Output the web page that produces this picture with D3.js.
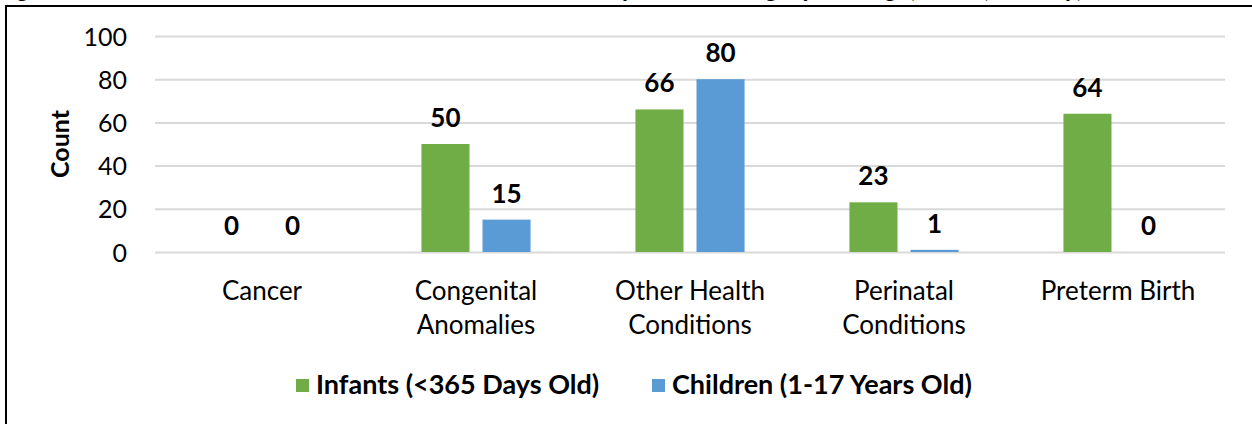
<!DOCTYPE html>
<html>
<head>
<meta charset="utf-8">
<title>Deaths by Category and Age</title>
<style type="text/css">
  body { margin: 0; background: #fff; }
  text { font-family: Lato, "Open Sans", sans-serif; fill: #000; }
  .grid line { stroke: #d9d9d9; stroke-width: 2; }
  .tick text { font-size: 25px; }
  .value { font-size: 26px; font-weight: bold; text-anchor: middle; }
  .legend text { font-size: 27px; font-weight: bold; }
</style>
<script src="https://d3js.org/d3.v7.min.js"></script>
</head>
<body>
<div id="chart"></div>
<script>
// data
var categories = ["Cancer", "Congenital Anomalies", "Other Health Conditions", "Perinatal Conditions", "Preterm Birth"];
var categoryLines = [["Cancer"], ["Congenital", "Anomalies"], ["Other Health", "Conditions"], ["Perinatal", "Conditions"], ["Preterm Birth"]];
var seriesNames = ["Infants (<365 Days Old)", "Children (1-17 Years Old)"];
var infants = [0, 50, 66, 23, 64];
var children = [0, 15, 80, 1, 0];
var yTicks = [0, 20, 40, 60, 80, 100];
var colors = ["#70ad47", "#5b9bd5"];

var W = 1252, H = 424;
var plot = {left: 155, right: 1225, top: 36, bottom: 252};

var svg = d3.select("#chart").append("svg")
  .attr("width", W)
  .attr("height", H);

// title belongs to the page above, only its bottom edge shows
svg.append("text")
  .attr("x", -3)
  .attr("y", -3)
  .style("font-size", "26.5px")
  .style("font-weight", "bold")
  .style("font-style", "italic")
  .text("Figure 3: Number of Infant and Child Deaths Reviewed by Cause Category and Age, 2018, County, Hawaii");

// outer frame
svg.append("rect")
  .attr("x", 6)
  .attr("y", 6)
  .attr("width", W + 10)
  .attr("height", H + 10)
  .attr("fill", "none")
  .attr("stroke", "#000")
  .attr("stroke-width", 2);

var x0 = d3.scaleBand()
  .domain(categories)
  .range([plot.left, plot.right])
  .paddingInner(0.49)
  .paddingOuter(0.245);

var x1 = d3.scaleBand()
  .domain(seriesNames)
  .range([0, x0.bandwidth()])
  .paddingInner(0.213);

var y = d3.scaleLinear()
  .domain([0, 100])
  .range([plot.bottom, plot.top]);

// gridlines + y labels
var yAxis = d3.axisLeft(y)
  .tickValues(yTicks)
  .tickSize(-(plot.right - plot.left))
  .tickPadding(28);

var gy = svg.append("g")
  .attr("class", "grid")
  .attr("transform", "translate(" + plot.left + ",0)")
  .call(yAxis);
gy.select(".domain").remove();
gy.selectAll(".tick text").attr("dy", "0.36em");

svg.append("text")
  .attr("transform", "translate(69," + ((plot.top + plot.bottom) / 2) + ") rotate(-90)")
  .attr("text-anchor", "middle")
  .style("font-size", "25px")
  .style("font-weight", "bold")
  .text("Count");

// bars
var rows = categories.map(function(c, i) {
  return {cat: c, vals: [{s: seriesNames[0], v: infants[i], k: 0}, {s: seriesNames[1], v: children[i], k: 1}]};
});

var groups = svg.selectAll(".grp")
  .data(rows)
  .enter().append("g")
  .attr("class", "grp")
  .attr("transform", function(d) { return "translate(" + x0(d.cat) + ",0)"; });

groups.selectAll("rect")
  .data(function(d) { return d.vals; })
  .enter().append("rect")
  .attr("x", function(d) { return x1(d.s); })
  .attr("y", function(d) { return y(d.v); })
  .attr("width", x1.bandwidth())
  .attr("height", function(d) { return y(0) - y(d.v); })
  .attr("fill", function(d) { return colors[d.k]; });

groups.selectAll(".value")
  .data(function(d) { return d.vals; })
  .enter().append("text")
  .attr("class", "value")
  .attr("x", function(d) { return x1(d.s) + x1.bandwidth() / 2; })
  .attr("y", function(d) { return y(d.v) - 17; })
  .text(function(d) { return d.v; });

// category labels
var xl = svg.selectAll(".xlab")
  .data(categories)
  .enter().append("text")
  .attr("class", "xlab")
  .attr("text-anchor", "middle")
  .style("font-size", "26px")
  .attr("x", function(d) { return x0(d) + x0.bandwidth() / 2; })
  .attr("y", 300);

xl.selectAll("tspan")
  .data(function(d, i) { return categoryLines[i]; })
  .enter().append("tspan")
  .attr("x", function() { return d3.select(this.parentNode).attr("x"); })
  .attr("dy", function(d, i) { return i === 0 ? 0 : 34; })
  .text(function(d) { return d; });

// legend
var legendX = [296, 652];
var lg = svg.selectAll(".legend")
  .data(seriesNames)
  .enter().append("g")
  .attr("class", "legend")
  .attr("transform", function(d, i) { return "translate(" + legendX[i] + ",379)"; });

lg.append("rect")
  .attr("width", 13)
  .attr("height", 13)
  .attr("fill", function(d, i) { return colors[i]; });

lg.append("text")
  .attr("x", 20)
  .attr("y", 15)
  .text(function(d) { return d; });
</script>
</body>
</html>
